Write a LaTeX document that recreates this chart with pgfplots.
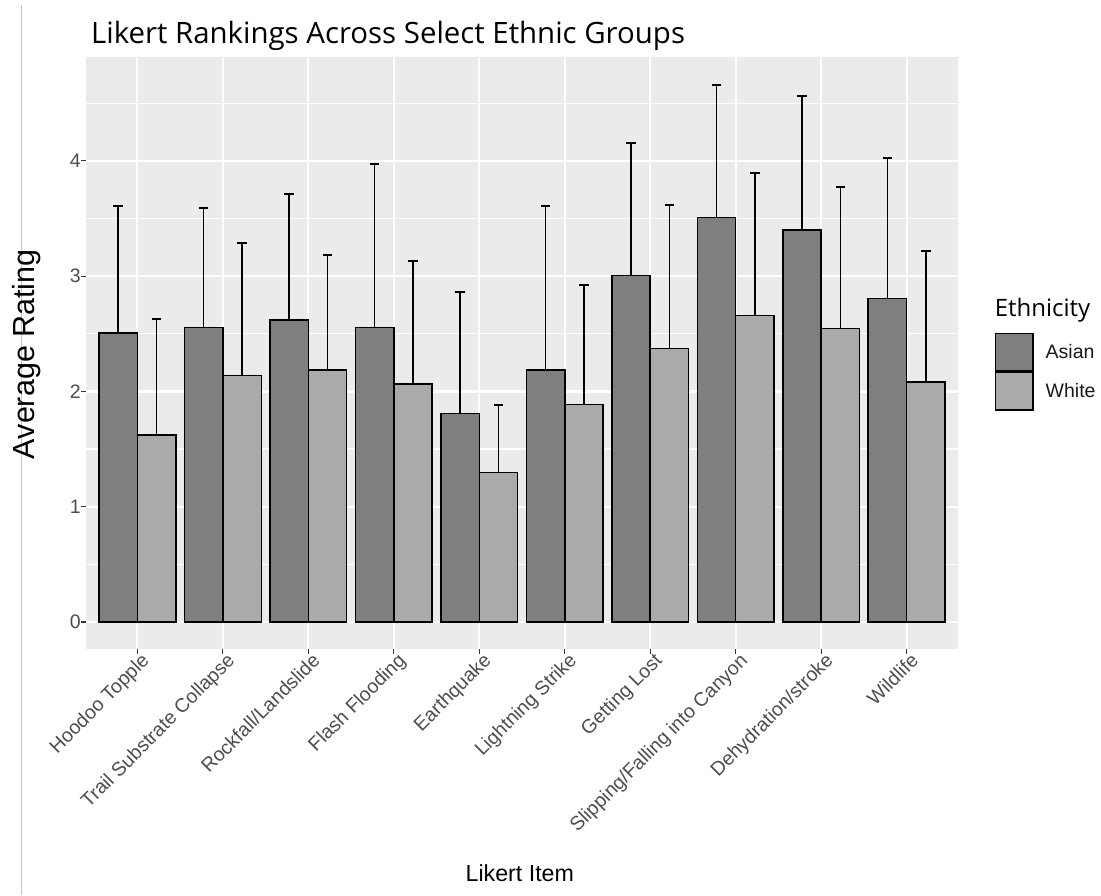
\documentclass[border=0pt]{standalone}
\usepackage{pgfplots}
\pgfplotsset{compat=1.18}
\usepackage{pgfplotstable}
\usepackage{fontspec}
\setmainfont{Liberation Sans}
\newfontfamily\titfont{Open Sans}
\definecolor{panelbg}{HTML}{EBEBEB}
\definecolor{asian}{HTML}{7F7F7F}
\definecolor{whitec}{HTML}{AAAAAA}
\definecolor{ticktext}{HTML}{4D4D4D}
\definecolor{tickcol}{HTML}{333333}

\pgfplotstableread{
x A Aerr W Werr
1 2.505 1.100 1.620 1.010
2 2.556 1.038 2.140 1.150
3 2.620 1.090 2.187 0.993
4 2.556 1.414 2.066 1.064
5 1.810 1.050 1.295 0.591
6 2.187 1.418 1.886 1.034
7 3.004 1.153 2.372 1.248
8 3.510 1.150 2.660 1.230
9 3.400 1.160 2.545 1.225
10 2.805 1.215 2.080 1.140
}\data

\begin{document}
\begin{tikzpicture}
\useasboundingbox (-43pt,-123pt) rectangle (507.5pt,324.5pt);
\draw[color=black!22, line width=0.6pt] (-32.25pt,-123pt) -- (-32.25pt,322pt);
\begin{axis}[
  at={(0pt,0pt)}, anchor=south west,
  scale only axis, width=436pt, height=296pt,
  xmin=0.4, xmax=10.6, ymin=-0.234, ymax=4.90,
  axis background/.style={fill=panelbg},
  axis line style={draw=none},
  xtick={1,...,10},
  xticklabels={Hoodoo Topple, Trail Substrate Collapse, Rockfall/Landslide, Flash Flooding, Earthquake, Lightning Strike, Getting Lost, Slipping/Falling into Canyon, Dehydration/stroke, Wildlife},
  ytick={0,1,2,3,4},
  minor ytick={0.5,1.5,2.5,3.5,4.5},
  grid=both,
  major grid style={white, line width=1.1pt},
  minor grid style={white, line width=0.6pt},
  tick align=outside,
  major tick length=2.5pt, minor tick length=0pt,
  tick style={tickcol, line width=0.55pt},
  xtick pos=left, ytick pos=left,
  /pgf/number format/assume math mode=true,
  xticklabel style={rotate=45, anchor=north east, inner sep=0pt, xshift=2pt, font=\fontsize{9.75}{11}\selectfont, text=ticktext},
  yticklabel style={anchor=east, inner sep=0pt, font=\fontsize{9.75}{11}\selectfont, text=ticktext},
  ybar, bar width=0.45,
  clip=false,
  legend style={at={(axis description cs:1.0424,0.5338)}, anchor=north west, draw=none, fill=none, inner sep=0pt, outer sep=0pt, row sep=0pt, column sep=6pt,
    nodes={inner sep=0pt, font=\fontsize{9.75}{11}\selectfont, text=black!90}},
  legend cell align=left,
  legend image code/.code={\draw[#1] (0pt,-9.375pt) rectangle (18.6pt,9.375pt);},
]
\addplot[bar shift=-0.225, fill=asian, draw=black, line width=0.75pt,
  error bars/.cd, y dir=plus, y explicit,
  error bar style={black, line width=0.6pt},
  error mark options={rotate=90, black, mark size=2.3pt, line width=1pt}]
  table[x=x, y=A, y error=Aerr] {\data};
\addlegendentry{Asian}
\addplot[bar shift=0.225, fill=whitec, draw=black, line width=0.75pt,
  error bars/.cd, y dir=plus, y explicit,
  error bar style={black, line width=0.6pt},
  error mark options={rotate=90, black, mark size=2.3pt, line width=1pt}]
  table[x=x, y=W, y error=Werr] {\data};
\addlegendentry{White}
\node[anchor=base west, inner sep=0pt, font=\titfont\fontsize{14.7}{17}\selectfont] at (axis description cs:0.0054,1.0231) {Likert Rankings Across Select Ethnic Groups};
\node[anchor=base west, inner sep=0pt, font=\titfont\fontsize{12}{14}\selectfont] at (axis description cs:1.0418,0.5615) {Ethnicity};
\node[anchor=base, inner sep=0pt, rotate=90, font=\fontsize{15.25}{17}\selectfont] at (axis description cs:-0.0585,0.498) {Average Rating};
\node[anchor=base, inner sep=0pt, font=\fontsize{11.6}{13}\selectfont] at (axis description cs:0.4975,-0.393) {Likert Item};
\end{axis}
\end{tikzpicture}
\end{document}
